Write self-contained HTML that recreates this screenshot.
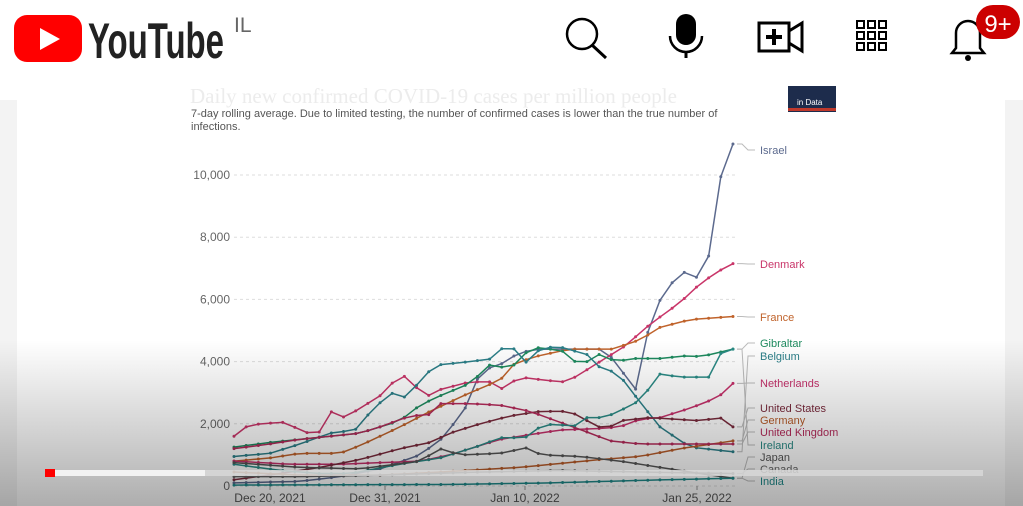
<!DOCTYPE html>
<html><head><meta charset="utf-8"><style>
html,body{margin:0;padding:0;width:1023px;height:506px;overflow:hidden;background:#f3f3f3;font-family:"Liberation Sans",sans-serif}
#page{position:absolute;left:17px;top:0;width:988px;height:506px;background:#fff}
svg{position:absolute;left:0;top:0}
</style></head><body>
<div id="page"></div>
<svg width="1023" height="506" id="s">
<rect x="0" y="0" width="1023" height="100" fill="#fff"/>
<text x="190" y="103" font-family="Liberation Serif" font-size="21" fill="#ececec">Daily new confirmed COVID-19 cases per million people</text>
<rect x="788" y="86" width="48" height="26" fill="#1d2c4c"/>
<rect x="788" y="108" width="48" height="3" fill="#c0392b"/>
<text x="797" y="105" font-size="8" fill="#fff">in Data</text>
<text x="191" y="117" font-size="11" fill="#555">7-day rolling average. Due to limited testing, the number of confirmed cases is lower than the true number of</text>
<text x="191" y="130" font-size="11" fill="#555">infections.</text>
<g id="grid"></g>
<g id="lines"></g>
<g id="labels" font-size="11"></g>
<defs><linearGradient id="gr" x1="0" y1="0" x2="0" y2="1">
<stop offset="0" stop-color="#000" stop-opacity="0"/><stop offset="1" stop-color="#000" stop-opacity="0.32"/></linearGradient></defs>
<rect x="0" y="340" width="1023" height="166" fill="url(#gr)"/>
<rect x="45" y="470" width="938" height="6" fill="#d8d8d8" opacity="0.85"/>
<rect x="55" y="470" width="150" height="6" fill="#f2f2f2"/>
<rect x="45" y="469" width="10" height="8" fill="#f00"/>
<!-- header -->
<rect x="14" y="15" width="68" height="47" rx="13" fill="#f00"/>
<polygon points="40,28 40,50 60,39" fill="#fff"/>
<text x="88" y="58" font-size="50" font-weight="bold" fill="#222" textLength="136" lengthAdjust="spacingAndGlyphs">YouTube</text>
<text x="234" y="32" font-size="21" fill="#666">IL</text>
<circle cx="582" cy="34" r="15" fill="none" stroke="#000" stroke-width="2.5"/>
<line x1="592" y1="45" x2="606" y2="58" stroke="#000" stroke-width="3"/>
<rect x="676" y="14" width="20" height="31" rx="10" fill="#000"/>
<path d="M670 36 a16 16 0 0 0 32 0" fill="none" stroke="#000" stroke-width="2.5"/>
<line x1="686" y1="52" x2="686" y2="58" stroke="#000" stroke-width="3"/>
<rect x="759" y="23" width="30" height="28" fill="none" stroke="#000" stroke-width="3"/>
<polygon points="789,31 802,23 802,51 789,43" fill="none" stroke="#000" stroke-width="3"/>
<line x1="774" y1="29" x2="774" y2="45" stroke="#000" stroke-width="4"/><line x1="766" y1="37" x2="782" y2="37" stroke="#000" stroke-width="4"/>
<g id="dots" fill="none" stroke="#000" stroke-width="2"></g>
<path d="M956 48 V33 a12 12 0 0 1 24 0 V48 l4 5 H952 z" fill="none" stroke="#000" stroke-width="2.5"/>
<circle cx="968" cy="58" r="3" fill="#000"/>
<rect x="976" y="5" width="44" height="34" rx="17" fill="#c00"/>
<text x="998" y="32" font-size="24" fill="#fff" text-anchor="middle">9+</text>
</svg>
<script>
const NS="http://www.w3.org/2000/svg";
function el(t,a,p){const e=document.createElementNS(NS,t);for(const k in a)e.setAttribute(k,a[k]);if(p)p.appendChild(e);return e;}
const d=document.getElementById('dots');
for(let i=0;i<3;i++)for(let j=0;j<3;j++)el('rect',{x:857+j*11,y:21+i*11,width:7,height:7},d);
const Y=v=>486-v*31.1;
const g=document.getElementById('grid');
[0,2,4,6,8,10].forEach(v=>{el('line',{x1:234,x2:735,y1:Y(v),y2:Y(v),stroke:'#ddd','stroke-dasharray':'3,3'},g);
 const t=el('text',{x:230,y:Y(v)+4,'text-anchor':'end','font-size':12,fill:'#666'},g);t.textContent=v==0?'0':(v*1000).toLocaleString('en-US');});
[["Dec 20, 2021",270],["Dec 31, 2021",385],["Jan 10, 2022",525],["Jan 25, 2022",697]].forEach(([s,x])=>{
 const t=el('text',{x:x,y:502,'text-anchor':'middle','font-size':12,fill:'#555'},g);t.textContent=s;
 el('line',{x1:x,x2:x,y1:486,y2:490,stroke:'#999'},g);});
const S=[
["Israel","#5c6a8e",150,[[234,0.1],[300,0.15],[340,0.3],[380,0.55],[420,1.0],[445,1.6],[460,2.3],[470,2.7],[480,3.7],[500,3.9],[520,4.3],[540,4.4],[605,4.4],[636,3.1],[652,5.6],[680,6.9],[693,6.8],[705,6.5],[718,9.7],[733,11.0]]],
["Denmark","#c93569",264,[[234,1.6],[246,1.9],[260,2.0],[285,2.05],[300,1.8],[317,1.6],[330,2.4],[345,2.2],[380,2.9],[395,3.4],[410,3.6],[422,2.8],[440,3.1],[470,3.35],[490,3.35],[500,3.1],[520,3.5],[545,3.4],[563,3.35],[575,3.5],[600,4.0],[625,4.5],[650,5.2],[680,5.9],[700,6.5],[718,6.9],[733,7.15]]],
["France","#c0632b",317,[[234,0.8],[270,0.9],[300,1.05],[320,1.05],[340,1.05],[360,1.3],[400,1.9],[430,2.4],[470,3.0],[500,3.4],[515,3.95],[540,4.2],[570,4.4],[612,4.4],[640,4.7],[660,5.1],[690,5.35],[733,5.45]]],
["Gibraltar","#1d8a5e",343,[[234,1.25],[270,1.4],[300,1.5],[330,1.6],[360,1.7],[400,2.1],[420,2.6],[440,2.9],[470,3.3],[490,3.9],[505,3.8],[520,3.95],[530,4.5],[545,4.4],[560,4.4],[575,4.0],[590,4.0],[600,4.25],[615,4.0],[635,4.1],[660,4.1],[690,4.2],[700,4.15],[733,4.4]]],
["Belgium","#2b7f88",356,[[234,0.95],[270,1.05],[300,1.35],[330,1.7],[355,1.8],[375,2.55],[395,3.05],[410,2.75],[420,3.5],[440,3.9],[470,4.0],[495,4.1],[510,4.8],[520,3.8],[540,4.4],[557,4.5],[590,4.2],[605,3.6],[615,3.75],[640,2.7],[660,1.9],[690,1.25],[733,1.1]]],
["Netherlands","#c5306a",383,[[234,0.8],[290,0.7],[340,0.7],[380,0.75],[420,0.8],[450,1.0],[480,1.3],[500,1.5],[530,1.65],[560,1.8],[600,1.85],[620,1.9],[640,2.15],[660,2.2],[690,2.5],[718,2.85],[733,3.3]]],
["United States","#7a2a3c",408,[[234,0.2],[280,0.4],[320,0.6],[360,0.85],[400,1.2],[430,1.4],[450,1.7],[480,2.0],[510,2.25],[540,2.4],[570,2.4],[590,2.05],[605,1.8],[620,2.1],[650,2.2],[700,2.1],[720,2.2],[733,1.9]]],
["Germany","#b85c2a",420,[[234,0.45],[300,0.35],[380,0.35],[440,0.45],[520,0.6],[600,0.85],[640,0.95],[680,1.2],[733,1.45]]],
["United Kingdom","#b52a5a",432,[[234,1.2],[270,1.35],[300,1.5],[330,1.6],[360,1.7],[380,1.9],[410,2.25],[430,2.3],[440,2.65],[470,2.65],[500,2.6],[530,2.4],[560,2.05],[590,1.7],[610,1.45],[640,1.35],[733,1.35]]],
["Ireland","#2a8a85",445,[[234,0.7],[280,0.5],[320,0.4],[350,0.4],[400,0.7],[440,0.9],[480,1.3],[500,1.55],[525,1.55],[540,1.9],[560,2.05],[570,1.7],[580,2.2],[605,2.2],[625,2.5],[640,2.75],[660,3.6],[680,3.5],[710,3.5],[720,4.25],[733,4.4]]],
["Japan","#555",457,[[234,0.75],[300,0.6],[360,0.55],[420,0.8],[440,1.2],[460,1.0],[500,1.05],[530,1.25],[540,1.0],[580,0.95],[620,0.8],[660,0.6],[700,0.4],[733,0.25]]],
["Canada","#666",469,[[234,0.3],[300,0.3],[380,0.35],[480,0.45],[560,0.5],[640,0.45],[733,0.4]]],
["India","#1f8a8a",481,[[234,0.03],[450,0.05],[550,0.1],[640,0.18],[733,0.25]]]];
const L=document.getElementById('lines'),LB=document.getElementById('labels');
function interp(p,x){for(let i=1;i<p.length;i++)if(x<=p[i][0]){const a=p[i-1],b=p[i];return a[1]+(b[1]-a[1])*(x-a[0])/(b[0]-a[0]);}return p[p.length-1][1];}
S.forEach(([n,c,ly,p])=>{
 let pts=[];for(let i=0;i<=41;i++){const x=234+i*12.17;pts.push([x,Y(interp(p,x))]);}
 el('polyline',{points:pts.map(q=>q.join(',')).join(' '),fill:'none',stroke:c,'stroke-width':1.5},L);
 pts.forEach(q=>el('circle',{cx:q[0],cy:q[1],r:1.5,fill:c},L));
 const ey=pts[pts.length-1][1];
 el('polyline',{points:`737,${ey} 742,${ey} 748,${ly} 755,${ly}`,fill:'none',stroke:'#bbb'},LB);
 const t=el('text',{x:760,y:ly+4,fill:c},LB);t.textContent=n;});
</script>
</body></html>
